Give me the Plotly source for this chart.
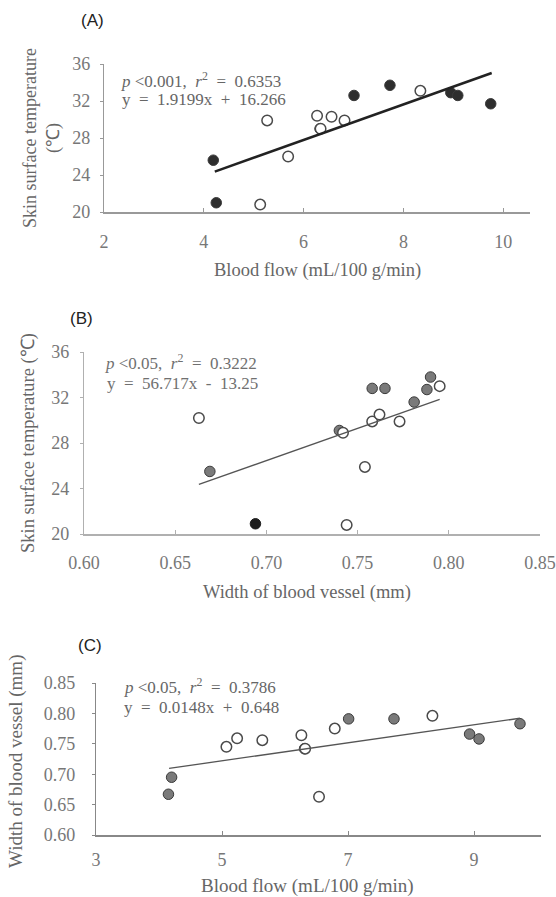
import plotly.graph_objects as go

W, H = 556, 897

# ---------------- data ----------------
# Panel A: blood flow vs skin surface temperature
a_open_x = [5.13, 5.27, 5.69, 6.27, 6.34, 6.56, 6.82, 8.34]
a_open_y = [20.8, 29.9, 26.0, 30.4, 29.0, 30.3, 29.9, 33.1]
a_fill_x = [4.19, 4.25, 6.33, 7.01, 7.73, 8.95, 9.09, 9.75]
a_fill_y = [25.6, 21.0, 29.0, 32.6, 33.7, 32.9, 32.6, 31.7]
a_fit = (1.9199, 16.266)
a_fit_x = [4.22, 9.77]

# Panel B: vessel width vs skin surface temperature
b_open_x = [0.663, 0.742, 0.744, 0.754, 0.758, 0.762, 0.773, 0.795]
b_open_y = [30.2, 28.9, 20.8, 25.9, 29.9, 30.5, 29.9, 33.0]
b_fill_x = [0.669, 0.740, 0.758, 0.765, 0.781, 0.788, 0.790]
b_fill_y = [25.5, 29.1, 32.8, 32.8, 31.6, 32.7, 33.8]
b_dark_x = [0.694]
b_dark_y = [20.9]
b_fit = (56.717, -13.25)
b_fit_x = [0.663, 0.795]

# Panel C: blood flow vs vessel width
c_open_x = [5.07, 5.24, 5.64, 6.26, 6.32, 6.54, 6.79, 8.34]
c_open_y = [0.745, 0.759, 0.756, 0.764, 0.742, 0.663, 0.775, 0.796]
c_fill_x = [4.15, 4.20, 6.31, 7.01, 7.73, 8.93, 9.08, 9.73]
c_fill_y = [0.667, 0.695, 0.742, 0.791, 0.791, 0.766, 0.758, 0.783]
c_fit = (0.0148, 0.648)
c_fit_x = [4.16, 9.73]

a_xticks = [2, 4, 6, 8, 10]
a_yticks = [20, 24, 28, 32, 36]
b_xticks = [0.60, 0.65, 0.70, 0.75, 0.80, 0.85]
b_xticklabels = ["0.60", "0.65", "0.70", "0.75", "0.80", "0.85"]
b_yticks = [20, 24, 28, 32, 36]
c_xticks = [3, 5, 7, 9]
c_yticks = [0.60, 0.65, 0.70, 0.75, 0.80, 0.85]
c_yticklabels = ["0.60", "0.65", "0.70", "0.75", "0.80", "0.85"]

# ---------------- helpers ----------------
def px(x):
    return x / W

def py(y):
    return 1 - y / H

SERIF = "Liberation Serif, Times New Roman, serif"
SANS = "Liberation Sans, Arial, sans-serif"
TICKCOL = "#777777"
TXTCOL = "#666666"
NB = "\u00a0"

fig = go.Figure()

def add_panel(xa, ya, open_x, open_y, fill_x, fill_y, fill_col, fit, fit_x, lw, line_col, msize):
    fig.add_trace(go.Scatter(x=fill_x, y=fill_y, mode="markers", xaxis=xa, yaxis=ya,
                             marker=dict(size=msize, color=fill_col,
                                         line=dict(color="#3a3a3a", width=1)),
                             showlegend=False, cliponaxis=False))
    fig.add_trace(go.Scatter(x=open_x, y=open_y, mode="markers", xaxis=xa, yaxis=ya,
                             marker=dict(size=msize, color="white",
                                         line=dict(color="#4a4a4a", width=1.5)),
                             showlegend=False, cliponaxis=False))
    fy = [fit[0] * v + fit[1] for v in fit_x]
    fig.add_trace(go.Scatter(x=fit_x, y=fy, mode="lines", xaxis=xa, yaxis=ya,
                             line=dict(color=line_col, width=lw),
                             showlegend=False, hoverinfo="skip"))

add_panel("x", "y", a_open_x, a_open_y, a_fill_x, a_fill_y, "#2e2e2e",
          a_fit, a_fit_x, 2.6, "#222222", 10.5)
add_panel("x2", "y2", b_open_x, b_open_y, b_fill_x, b_fill_y, "#7a7a7a",
          b_fit, b_fit_x, 1.3, "#555555", 10.5)
fig.add_trace(go.Scatter(x=b_dark_x, y=b_dark_y, mode="markers", xaxis="x2", yaxis="y2",
                         marker=dict(size=10.5, color="#1e1e1e", line=dict(color="#1e1e1e", width=1)),
                         showlegend=False, cliponaxis=False))
add_panel("x3", "y3", c_open_x, c_open_y, c_fill_x, c_fill_y, "#7a7a7a",
          c_fit, c_fit_x, 1.3, "#555555", 10.5)

tickfont = dict(family=SERIF, size=18, color=TICKCOL)

def xaxis(dom, rng, anchor, ticks, labels=None, color="#999999", standoff=12):
    d = dict(domain=dom, range=rng, anchor=anchor, tickvals=ticks, showgrid=False,
             zeroline=False, showline=True, linecolor=color, linewidth=1.5,
             ticks="inside", ticklen=4, tickcolor=color, tickfont=tickfont,
             ticklabelstandoff=standoff, fixedrange=True, automargin=False)
    if labels:
        d["ticktext"] = labels
    return d

def yaxis(dom, rng, anchor, ticks, labels=None, color="#999999", standoff=6):
    d = dict(domain=dom, range=rng, anchor=anchor, tickvals=ticks, showgrid=False,
             zeroline=False, showline=True, linecolor=color, linewidth=1.2,
             ticks="outside", ticklen=3, tickcolor=color, tickfont=tickfont,
             ticklabelstandoff=standoff, fixedrange=True, automargin=False)
    if labels:
        d["ticktext"] = labels
    return d

fig.update_layout(
    width=W, height=H,
    margin=dict(l=0, r=0, t=0, b=0, autoexpand=False),
    paper_bgcolor="white", plot_bgcolor="white",
    xaxis=xaxis([px(104), px(530)], [2, 2 + (530 - 104) / 49.9], "y", a_xticks,
                standoff=13),
    yaxis=yaxis([py(212), py(64)], [20, 36], "x", a_yticks, standoff=6),
    xaxis2=xaxis([px(84), px(540)], [0.60, 0.85], "y2", b_xticks, b_xticklabels,
                 "#b0b0b0", standoff=12),
    yaxis2=yaxis([py(534), py(352)], [20, 36], "x2", b_yticks, None, "#b0b0b0",
                 standoff=7),
    xaxis3=xaxis([px(96), px(541)], [3, 3 + (541 - 96) / 63], "y3", c_xticks, None,
                 "#888888", standoff=8),
    yaxis3=yaxis([py(835), py(683)], [0.60, 0.85], "x3", c_yticks, c_yticklabels,
                 "#888888", standoff=13),
)

def ann(x, y, text, size=16, family=SERIF, color=TXTCOL, xanchor="center", angle=0):
    fig.add_annotation(x=px(x), y=py(y), xref="paper", yref="paper", text=text,
                       showarrow=False, xanchor=xanchor, yanchor="middle",
                       font=dict(family=family, size=size, color=color), textangle=angle)

# panel labels
ann(92, 20, "(A)", 17, SANS, "#222222")
ann(81, 318, "(B)", 17, SANS, "#222222")
ann(90, 645, "(C)", 17, SANS, "#222222")

# regression texts
def stat_line(p, r2):
    return (f"<i>p</i>{NB}<{p},{NB}{NB}<i>r</i><sup>2</sup>{NB}{NB}={NB}{NB}{r2}")

def eq_line(txt):
    return txt.replace(" ", NB + NB)

ann(119, 80, stat_line("0.001", "0.6353"), 17, xanchor="left")
ann(120, 99, eq_line("y = 1.9199x + 16.266"), 17, xanchor="left")
ann(103, 362, stat_line("0.05", "0.3222"), 17, xanchor="left", color="#707070")
ann(105, 384, eq_line("y = 56.717x - 13.25"), 17, xanchor="left", color="#707070")
ann(122, 686, stat_line("0.05", "0.3786"), 17, xanchor="left")
ann(122, 707, eq_line("y = 0.0148x + 0.648"), 17, xanchor="left")

# axis titles
ann(317, 270, "Blood flow (mL/100 g/min)", 18.5)
ann(307, 592, "Width of blood vessel (mm)", 18.5)
ann(307, 886, "Blood flow (mL/100 g/min)", 19)
ann(30, 138, "Skin surface temperature", 18, angle=-90)
ann(53, 138, "(℃)", 18, angle=-90)
ann(28, 443, "Skin surface temperature (℃)", 18.5, angle=-90)
ann(16, 762, "Width of blood vessel (mm)", 19, angle=-90)

fig.write_html("out.html",
               config={"displayModeBar": False},
               post_script="document.body.style.margin='0';document.body.style.overflow='hidden';")
